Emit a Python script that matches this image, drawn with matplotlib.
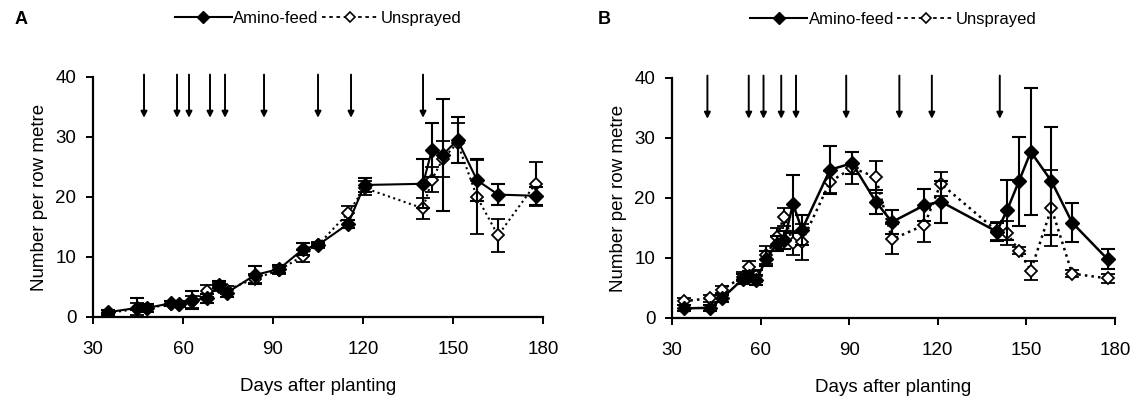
import matplotlib
matplotlib.use('Agg')
import matplotlib.pyplot as plt
from matplotlib.lines import Line2D

plt.rcParams['font.family'] = ['Liberation Sans', 'DejaVu Sans']

# Panel A data
days_a = [35, 44.5, 48, 56, 58.5, 63, 68, 72, 74.5, 84, 92, 100, 105, 115, 120.5,
          140, 143, 146.5, 151.5, 158, 165, 177.5]
amino_a = [0.8, 1.5, 1.5, 2.3, 2.2, 2.8, 3.1, 5.4, 4.0, 7.0, 8.0, 11.3, 12.0, 15.5, 22.0,
           22.2, 27.9, 27.0, 29.5, 22.8, 20.4, 20.2]
amino_a_err = [0.4, 1.6, 0.7, 0.4, 0.4, 1.5, 0.8, 0.6, 0.7, 1.5, 0.7, 1.0, 0.4, 0.6, 1.2,
               4.1, 4.5, 9.4, 3.8, 3.5, 1.8, 1.5]
unspr_a = [0.7, 1.3, 1.4, 2.2, 2.0, 2.5, 4.3, 5.0, 4.5, 6.4, 7.8, 10.2, 12.0, 17.3, 21.5,
           18.1, 22.9, 26.3, 29.0, 20.0, 13.6, 22.2]
unspr_a_err = [0.4, 1.0, 0.6, 0.4, 0.4, 1.0, 1.0, 0.6, 0.6, 0.8, 0.6, 1.0, 0.5, 1.2, 1.2,
               1.8, 2.1, 3.0, 3.3, 6.2, 2.7, 3.7]
sprays_a = [47, 58, 62, 69, 74, 87, 105, 116, 140]

# Panel B data
days_b = [34, 43, 47, 54, 56, 58.5, 62, 65.5, 68, 71, 74, 83.5, 91, 99, 104.5,
          115.5, 121, 140, 143.5, 147.5, 151.5, 158.5, 165.5, 177.5]
amino_b = [1.6, 1.7, 3.3, 6.5, 7.0, 6.3, 9.9, 12.4, 13.0, 19.0, 14.7, 24.7, 25.8, 19.4, 16.0,
           18.8, 19.4, 14.4, 18.0, 22.8, 27.7, 22.8, 15.9, 9.8]
amino_b_err = [0.5, 0.5, 0.6, 0.8, 0.8, 0.8, 1.2, 1.2, 1.5, 4.8, 2.5, 4.0, 1.8, 2.0, 2.0,
               2.7, 3.5, 1.5, 5.0, 7.4, 10.6, 9.0, 3.2, 1.7]
unspr_b = [2.8, 3.3, 4.7, 6.9, 8.5, 7.0, 10.5, 13.5, 16.9, 12.5, 12.7, 22.7, 25.0, 23.5, 13.1,
           15.5, 22.4, 14.5, 14.1, 11.2, 7.9, 18.3, 7.4, 6.6]
unspr_b_err = [0.6, 0.6, 0.6, 0.8, 1.0, 1.0, 1.5, 1.5, 1.5, 2.0, 3.0, 1.8, 2.6, 2.7, 2.5,
               2.8, 2.0, 1.5, 2.0, 0.6, 1.6, 6.3, 0.6, 0.8]
sprays_b = [42, 56, 61, 67, 72, 89, 107, 118, 141]

fig = plt.figure(figsize=(11.37, 4.01), dpi=100)
ax_a = fig.add_axes([0.0818, 0.2095, 0.3958, 0.5985])
ax_b = fig.add_axes([0.591, 0.207, 0.3896, 0.5985])


def draw_panel(ax, days, amino, amino_err, unspr, unspr_err, sprays, lw):
    ax.errorbar(days, unspr, yerr=unspr_err, color='black', linestyle=':', linewidth=lw,
                marker='D', markersize=6.5, markerfacecolor='white', markeredgecolor='black',
                markeredgewidth=1.3, ecolor='black', elinewidth=1.5, capsize=5, capthick=1.5,
                zorder=3)
    ax.errorbar(days, amino, yerr=amino_err, color='black', linestyle='-', linewidth=lw,
                marker='D', markersize=7, markerfacecolor='black', markeredgecolor='black',
                ecolor='black', elinewidth=1.5, capsize=5, capthick=1.5, zorder=4)
    # spray dates
    for d in sprays:
        ax.annotate('', xy=(d, 33.2), xytext=(d, 40.4),
                    arrowprops=dict(arrowstyle='-|>', color='black', lw=1.4,
                                    mutation_scale=9, shrinkA=0, shrinkB=0),
                    annotation_clip=False)
    ax.set_xlim(30, 180)
    ax.set_ylim(0, 40)
    ax.set_xticks([30, 60, 90, 120, 150, 180])
    ax.set_yticks([0, 10, 20, 30, 40])
    ax.spines['top'].set_visible(False)
    ax.spines['right'].set_visible(False)
    for s in ['left', 'bottom']:
        ax.spines[s].set_linewidth(1.6)
    ax.tick_params(direction='out', length=5, width=1.4, labelsize=13.5)
    ax.tick_params(axis='x', pad=12)
    ax.tick_params(axis='y', pad=7)
    ax.set_xlabel('Days after planting', fontsize=13.5, labelpad=15)
    ax.set_ylabel('Number per row metre', fontsize=13.5, labelpad=5)
    handles = [
        Line2D([], [], color='black', linestyle='-', linewidth=1.5, marker='D',
               markersize=6, markerfacecolor='black'),
        Line2D([], [], color='black', linestyle=(0, (2, 2)), linewidth=1.3, marker='D',
               markersize=5.5, markerfacecolor='white', markeredgewidth=1.2),
    ]
    ax.legend(handles, ['Amino-feed', 'Unsprayed'], loc='center',
              bbox_to_anchor=(0.5, 1.245), ncol=2, frameon=False, fontsize=12,
              handlelength=3.4, columnspacing=0.2, handletextpad=0.1)


draw_panel(ax_a, days_a, amino_a, amino_a_err, unspr_a, unspr_a_err, sprays_a, 1.5)
draw_panel(ax_b, days_b, amino_b, amino_b_err, unspr_b, unspr_b_err, sprays_b, 1.8)

fig.text(15 / 1137, 1 - 20 / 401, 'A', fontsize=13, fontweight='bold', va='center')
fig.text(598 / 1137, 1 - 20 / 401, 'B', fontsize=13, fontweight='bold', va='center')

fig.savefig('out.png', dpi=100)
